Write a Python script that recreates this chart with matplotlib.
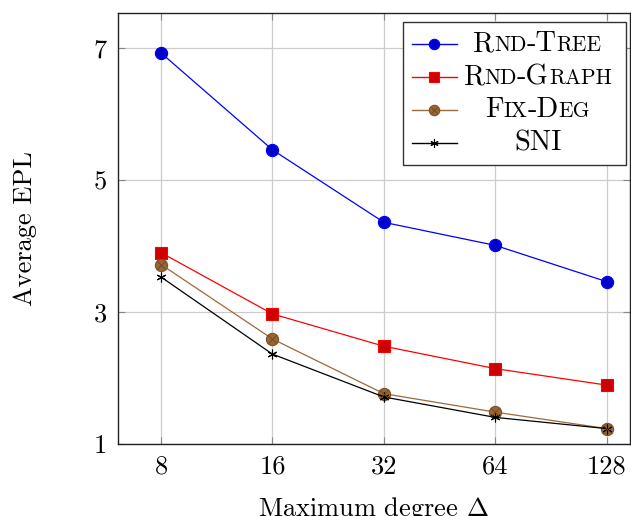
import matplotlib
matplotlib.use("Agg")
import matplotlib.pyplot as plt
from matplotlib.lines import Line2D
from matplotlib.offsetbox import AnchoredOffsetbox, VPacker, HPacker, TextArea, DrawingArea

# data
degrees = [8, 16, 32, 64, 128]
rnd_tree = [6.93, 5.46, 4.36, 4.01, 3.46]
rnd_graph = [3.90, 2.97, 2.48, 2.14, 1.89]
fix_deg = [3.72, 2.59, 1.76, 1.48, 1.23]
sni = [3.53, 2.36, 1.71, 1.40, 1.23]
names = ["Rnd-Tree", "Rnd-Graph", "Fix-Deg", "SNI"]
yticks = [1, 3, 5, 7]

plt.rcParams["font.family"] = "cmr10"
plt.rcParams["mathtext.fontset"] = "cm"
plt.rcParams["axes.unicode_minus"] = False
plt.rcParams["axes.formatter.use_mathtext"] = True

fig = plt.figure(figsize=(6.31, 5.16), dpi=100)
ax = fig.add_axes([0.187, 0.140, 0.811, 0.834])

# pgfplots-like styles
styles = [
    dict(color="#0000ff", marker="o", mfc="#0000cc", mec="#0000ff", ms=8.8),
    dict(color="#ff0000", marker="s", mfc="#cc0000", mec="#ff0000", ms=8.4),
    dict(color="#9a6a3c", marker="o", mfc="#996633", mec="#7a5229", ms=8.8),
    dict(color="black", marker=(6, 2, 0), mfc="black", mec="black", ms=7),
]
series = [rnd_tree, rnd_graph, fix_deg, sni]

for vals, st in zip(series, styles):
    ax.plot(degrees, vals, lw=0.9, mew=0.8, zorder=3, **st)
# the cross inside the Fix-Deg circles
ax.plot(degrees, fix_deg, ls="none", marker="x", ms=5.5, mew=0.6, color="#6b4724", zorder=4)

ax.set_xscale("log", base=2)
ax.set_xlim(6.12, 147.7)
ax.set_ylim(1, 7.53)
ax.set_xticks(degrees)
ax.set_xticklabels([str(d) for d in degrees])
ax.minorticks_off()
ax.set_yticks(yticks)
ax.set_yticklabels([str(t) for t in yticks])

ax.grid(True, color="#cccccc", lw=0.9)
ax.set_axisbelow(True)
for s in ax.spines.values():
    s.set_color("#222222")
    s.set_linewidth(1.0)
ax.tick_params(direction="in", length=5, width=0.8, color="#888888",
               top=True, right=True, labelsize=19)
ax.tick_params(axis="x", pad=8)
ax.tick_params(axis="y", pad=8)

ax.set_xlabel(r"Maximum degree $\Delta$", fontsize=19, labelpad=12)
ax.set_ylabel("Average EPL", fontsize=19, labelpad=41)


def small_caps(text, big=20.5, small=15.5):
    runs = []
    for ch in text:
        low = ch.islower()
        if runs and runs[-1][1] == low:
            runs[-1][0] += ch
        else:
            runs.append([ch, low])
    parts = []
    for chunk, low in runs:
        parts.append(TextArea(chunk.upper(),
                              textprops=dict(fontsize=small if low else big,
                                             family="cmr10")))
    return HPacker(children=parts, align="baseline", pad=0, sep=0)


# legend built by hand so the labels can be in small caps and centred
rows, texts, lefts, rights = [], [], [], []
for i, st in enumerate(styles):
    da = DrawingArea(32.4, 23.8, 0, 0)
    da.add_artist(Line2D([0, 32.4], [11.9, 11.9], color=st["color"], lw=1.0))
    da.add_artist(Line2D([16.2], [11.9], marker=st["marker"], mfc=st["mfc"],
                         mec=st["mec"], ms=st["ms"] * 0.85, mew=0.8))
    if i == 2:
        da.add_artist(Line2D([16.2], [11.9], marker="x", ms=4.8, mew=0.6, color="#6b4724"))
    t = small_caps(names[i])
    lsp = DrawingArea(5, 1, 0, 0)
    rsp = DrawingArea(6.5, 1, 0, 0)
    rows.append(HPacker(children=[da, lsp, t, rsp], align="center", pad=0, sep=0))
    texts.append(t)
    lefts.append(lsp)
    rights.append(rsp)

col = VPacker(children=rows, align="left", pad=0, sep=0)
body = HPacker(children=[DrawingArea(3, 1, 0, 0), col], align="center", pad=0, sep=0)
leg = AnchoredOffsetbox(loc="upper right", child=body, pad=0.36, borderpad=0,
                        frameon=True, bbox_to_anchor=(0.992, 0.979),
                        bbox_transform=ax.transAxes, prop=dict(size=10))
leg.patch.set_boxstyle("square", pad=0)
leg.patch.set_edgecolor("#333333")
leg.patch.set_linewidth(1.0)
leg.set_zorder(5)
ax.add_artist(leg)

renderer = fig.canvas.get_renderer()
widths = [t.get_bbox(renderer).width for t in texts]
for lsp, rsp, w in zip(lefts, rights, widths):
    extra = (max(widths) - w) / 2 * 72 / fig.dpi
    lsp.width = 5 + extra
    rsp.width = 6.5 + extra

fig.savefig("out.png", dpi=100)
